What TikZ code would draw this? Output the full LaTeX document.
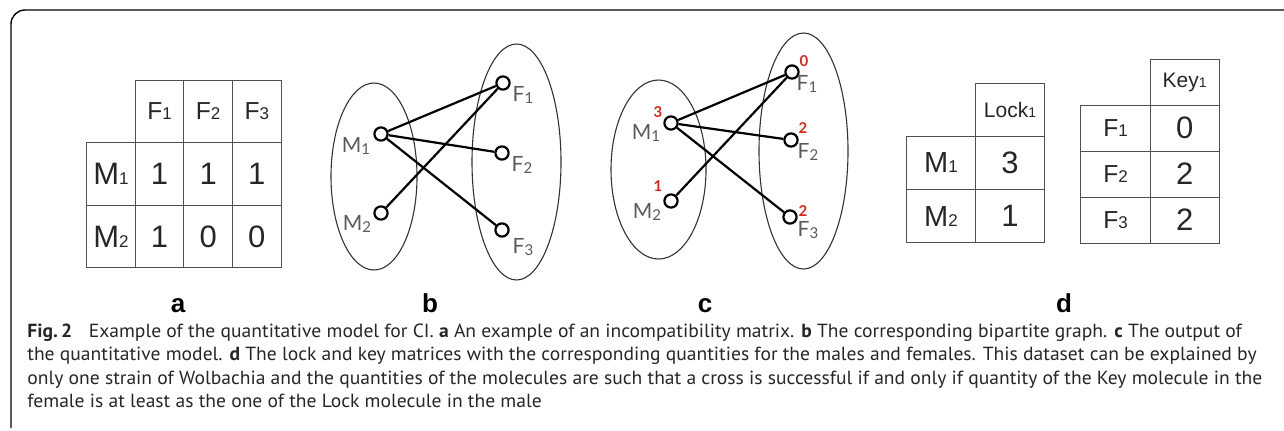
\documentclass[tikz,border=0pt]{standalone}
\usepackage{fontspec}
\setmainfont{Liberation Sans}
\newfontfamily\capfont[FakeStretch=1.03]{PT Sans}
\newfontfamily\gillfont{Lato}
\usetikzlibrary{positioning,shapes.geometric}
\definecolor{gridgray}{HTML}{505050}
\definecolor{labgray}{HTML}{5A5A5A}
\definecolor{qtyred}{HTML}{D02A1E}
% small index digits
\newcommand{\lo}[1]{{\fontsize{8.5}{8.5}\selectfont #1}}
\newcommand{\glo}[1]{\raisebox{-1.2pt}{\fontsize{7.5}{7.5}\selectfont #1}}

\begin{document}
\begin{tikzpicture}[x=0.5pt, y=-0.5pt,
  cell/.style={draw=gridgray, line width=0.5pt, inner sep=0pt, outer sep=0pt, text=black!85, font=\fontsize{15.5}{15.5}\selectfont},
  head/.style={cell, font=\fontsize{12.3}{12.3}\selectfont},
  acell/.style={minimum width=24.3pt, minimum height=31.3pt},
  dcell/.style={minimum width=34.5pt, minimum height=26.6pt},
  kcell/.style={minimum width=34.6pt, minimum height=23pt},
  grp/.style={draw=black!80, line width=0.55pt, ellipse, inner sep=0pt},
  vtx/.style={draw=black, line width=1.1pt, circle, fill=white, inner sep=0pt, minimum size=6.6pt},
  edge/.style={line width=1.1pt, black},
  lbl/.style={text=labgray, inner sep=0pt, font=\gillfont\fontsize{10.5}{10.5}\selectfont},
  qty/.style={text=qtyred, inner sep=0pt, font=\gillfont\bfseries\fontsize{7.5}{7.5}\selectfont},
  panel/.style={anchor=base, inner sep=0pt, font=\bfseries\fontsize{13}{13}\selectfont},
  capline/.style={anchor=base west, inner sep=0pt, text=black!85, font=\capfont\fontsize{9.5}{11}\selectfont},
  frame/.style={line width=0.7pt, rounded corners=7pt}
]
\useasboundingbox (0,0) rectangle (1284,430);
\draw[frame] (11,428) -- (11,10) -- (1284,10);

% a: incompatibility matrix
\node[cell, acell] (aM1) at (111,174) {M\lo1};
\node[cell, acell, right=0pt of aM1] (a11) {1};
\node[cell, acell, right=0pt of a11] (a12) {1};
\node[cell, acell, right=0pt of a12] (a13) {1};
\node[cell, acell, below=0pt of aM1] (aM2) {M\lo2};
\node[cell, acell, right=0pt of aM2] (a21) {1};
\node[cell, acell, right=0pt of a21] (a22) {0};
\node[cell, acell, right=0pt of a22] (a23) {0};
\node[head, acell, above=0pt of a11] (aF1) {F\lo1};
\node[head, acell, above=0pt of a12] (aF2) {F\lo2};
\node[head, acell, above=0pt of a13] (aF3) {F\lo3};

% b: bipartite graph
\node[grp, minimum width=43pt, minimum height=93.5pt] (bL) at (374,176.5) {};
\node[grp, minimum width=44.5pt, minimum height=118pt] (bR) at (516.5,162) {};
\node[vtx] (bM1) at (381,134) {};
\node[vtx] (bM2) at (381,213) {};
\node[vtx] (bF1) at (503,83) {};
\node[vtx] (bF2) at (502,153) {};
\node[vtx] (bF3) at (502,230) {};
\draw[edge] (bM1) -- (bF1);
\draw[edge] (bM1) -- (bF2);
\draw[edge] (bM1) -- (bF3);
\draw[edge] (bM2) -- (bF1);
\node[lbl] (bM1l) at (356,146) {M\glo1};
\node[lbl] (bM2l) at (357,224) {M\glo2};
\node[lbl] (bF1l) at (523,95) {F\glo1};
\node[lbl] (bF2l) at (522,165) {F\glo2};
\node[lbl] (bF3l) at (523,247) {F\glo3};

% c: quantitative model output
\node[grp, minimum width=47.5pt, minimum height=89.5pt] (cL) at (658.5,169.5) {};
\node[grp, minimum width=44.5pt, minimum height=118pt] (cR) at (803.5,151) {};
\node[vtx] (cM1) at (671,123) {};
\node[vtx] (cM2) at (671,201) {};
\node[vtx] (cF1) at (792,72) {};
\node[vtx] (cF2) at (791,140) {};
\node[vtx] (cF3) at (790,217) {};
\draw[edge] (cM1) -- (cF1);
\draw[edge] (cM1) -- (cF2);
\draw[edge] (cM1) -- (cF3);
\draw[edge] (cM2) -- (cF1);
\node[lbl] (cM1l) at (646,133) {M\glo1};
\node[lbl] (cM2l) at (647,212) {M\glo2};
\node[lbl] (cF1l) at (807,84) {F\glo1};
\node[lbl] (cF2l) at (808,152) {F\glo2};
\node[lbl] (cF3l) at (808,230) {F\glo3};
\node[qty] (cM1q) at (658,112) {3};
\node[qty] (cM2q) at (658,186) {1};
\node[qty] (cF1q) at (804,61) {0};
\node[qty] (cF2q) at (803,128) {2};
\node[qty] (cF3q) at (803,211) {2};

% d: lock and key matrices
\node[cell, dcell, font=\fontsize{14.5}{14.5}\selectfont] (dM1) at (941,163) {M\lo1};
\node[cell, dcell, right=0pt of dM1] (dL1) {3};
\node[cell, dcell, below=0pt of dM1, font=\fontsize{14.5}{14.5}\selectfont] (dM2) {M\lo2};
\node[cell, dcell, right=0pt of dM2] (dL2) {1};
\node[head, dcell, above=0pt of dL1, font=\fontsize{10.5}{10.5}\selectfont] (dLock) {Lock{\fontsize{7}{7}\selectfont 1}};
\node[head, kcell] (kF1) at (1115.5,128) {F\lo1};
\node[cell, kcell, right=0pt of kF1] (kK1) {0};
\node[head, kcell, below=0pt of kF1] (kF2) {F\lo2};
\node[cell, kcell, right=0pt of kF2] (kK2) {2};
\node[head, kcell, below=0pt of kF2] (kF3) {F\lo3};
\node[cell, kcell, right=0pt of kF3] (kK3) {2};
\node[head, kcell, above=0pt of kK1, font=\fontsize{10.5}{10.5}\selectfont] (kKey) {Key{\fontsize{7}{7}\selectfont 1}};

% panel letters
\node[panel] (pa) at (178,312) {a};
\node[panel] (pb) at (430,312) {b};
\node[panel] (pc) at (705,312) {c};
\node[panel] (pd) at (1064,312) {d};

% caption
\node[capline] (cap1) at (27,337) {\textbf{Fig.\,2}\hspace{0.6em} Example of the quantitative model for CI. \textbf{a} An example of an incompatibility matrix. \textbf{b} The corresponding bipartite graph. \textbf{c} The output of};
\node[capline] (cap2) at (27,360.5) {the quantitative model. \textbf{d} The lock and key matrices with the corresponding quantities for the males and females. This dataset can be explained by};
\node[capline] (cap3) at (27,384) {only one strain of Wolbachia and the quantities of the molecules are such that a cross is successful if and only if quantity of the Key molecule in the};
\node[capline] (cap4) at (27,407) {female is at least as the one of the Lock molecule in the male};
\end{tikzpicture}
\end{document}
